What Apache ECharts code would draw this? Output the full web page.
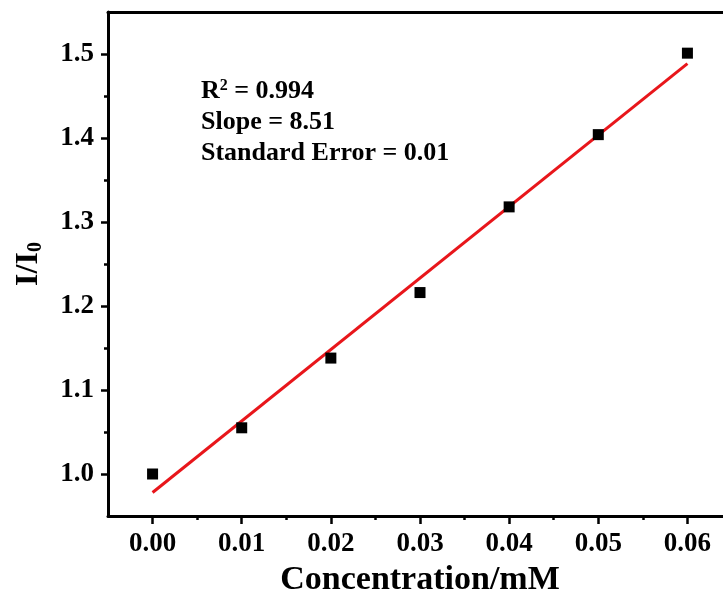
<!DOCTYPE html>
<html>
<head>
<meta charset="utf-8">
<title>I/I0 vs Concentration</title>
<script src="https://cdn.jsdelivr.net/npm/echarts@6/dist/echarts.min.js"></script>
<style>
  html, body { margin: 0; padding: 0; background: #fff; }
  #chart { width: 723px; height: 595px; }
</style>
</head>
<body>
<div id="chart"></div>
<script>
// Measured intensity ratio at each concentration (mM)
const concentration = [0.00, 0.01, 0.02, 0.03, 0.04, 0.05, 0.06];
const intensityRatio = [1.000, 1.055, 1.138, 1.216, 1.318, 1.404, 1.501];

// Linear fit parameters
const fitSlope = 8.51;
const fitIntercept = 0.978;
const fitRange = [0.00, 0.06];

// Axis ticks
const xMajorTicks = [0.00, 0.01, 0.02, 0.03, 0.04, 0.05, 0.06];
const xMinorTicks = [0.005, 0.015, 0.025, 0.035, 0.045, 0.055];
const yMajorTicks = [1.0, 1.1, 1.2, 1.3, 1.4, 1.5];
const yMinorTicks = [1.05, 1.15, 1.25, 1.35, 1.45];

// Fit statistics shown on the plot
const statLines = ['R{sup|2} = 0.994', 'Slope = 8.51', 'Standard Error = 0.01'];

const FONT = "'Liberation Serif', 'Times New Roman', serif";

const fitLine = fitRange.map(x => [x, fitIntercept + fitSlope * x]);
const points = concentration.map((x, i) => [x, intensityRatio[i]]);

const chart = echarts.init(document.getElementById('chart'), null, { renderer: 'canvas' });

// The plot frame runs past the right edge of the canvas
const grid = { left: 108, top: 12, width: 624, bottom: 79,
  outerBoundsMode: 'none', containLabel: false };

const xRange = { min: -0.005, max: 0.065 };
const yRange = { min: 0.95, max: 1.55 };

const AXIS_LINE = { color: '#000', width: 3 };
const TICK_LINE = { color: '#000', width: 2.5 };

chart.setOption({
  backgroundColor: '#fff',
  animation: false,
  grid: grid,
  xAxis: [
    {
      type: 'value', ...xRange,
      name: 'Concentration/mM',
      nameLocation: 'middle',
      nameGap: 47,
      nameTextStyle: { fontFamily: FONT, fontWeight: 'bold', fontSize: 34, color: '#000' },
      axisLine: { show: true, onZero: false, lineStyle: AXIS_LINE },
      axisTick: { show: true, inside: false, length: 8, lineStyle: TICK_LINE, customValues: xMajorTicks },
      axisLabel: { show: true, margin: 15, fontFamily: FONT, fontWeight: 'bold', fontSize: 27, color: '#000',
        customValues: xMajorTicks, formatter: v => v.toFixed(2) },
      splitLine: { show: false }
    },
    {
      type: 'value', ...xRange,
      position: 'bottom',
      axisLine: { show: false, onZero: false },
      axisTick: { show: true, inside: false, length: 4, lineStyle: TICK_LINE, customValues: xMinorTicks },
      axisLabel: { show: false },
      splitLine: { show: false }
    },
    {
      // top edge of the frame
      type: 'value', ...xRange,
      position: 'top',
      axisLine: { show: true, onZero: false, lineStyle: AXIS_LINE },
      axisTick: { show: false },
      axisLabel: { show: false },
      splitLine: { show: false }
    }
  ],
  yAxis: [
    {
      type: 'value', ...yRange,
      name: 'I/I{sub|0}',
      nameLocation: 'middle',
      nameRotate: 90,
      nameGap: 62,
      nameTextStyle: { fontFamily: FONT, fontWeight: 'bold', fontSize: 32, color: '#000',
        rich: { sub: { fontFamily: FONT, fontWeight: 'bold', fontSize: 20, color: '#000', verticalAlign: 'bottom', padding: [15, 0, 0, 0] } } },
      axisLine: { show: true, onZero: false, lineStyle: AXIS_LINE },
      axisTick: { show: true, inside: false, length: 7, lineStyle: TICK_LINE, customValues: yMajorTicks },
      axisLabel: { show: true, margin: 14, fontFamily: FONT, fontWeight: 'bold', fontSize: 27, color: '#000',
        customValues: yMajorTicks, formatter: v => v.toFixed(1) },
      splitLine: { show: false }
    },
    {
      type: 'value', ...yRange,
      position: 'left',
      axisLine: { show: false, onZero: false },
      axisTick: { show: true, inside: false, length: 4, lineStyle: TICK_LINE, customValues: yMinorTicks },
      axisLabel: { show: false },
      splitLine: { show: false }
    }
  ],
  series: [
    {
      name: 'fit',
      type: 'line',
      data: fitLine,
      symbol: 'none',
      lineStyle: { color: '#e8161b', width: 3 },
      z: 2
    },
    {
      name: 'data',
      type: 'scatter',
      data: points,
      symbol: 'rect',
      symbolSize: 11,
      itemStyle: { color: '#000', opacity: 1 },
      z: 3
    }
  ],
  graphic: statLines.map((t, i) => ({
    type: 'text',
    left: 201,
    top: 78 + i * 31,
    style: {
      text: t,
      fontFamily: FONT,
      fontWeight: 'bold',
      fontSize: 26,
      fill: '#000',
      rich: {
        sup: { fontFamily: FONT, fontWeight: 'bold', fontSize: 16, fill: '#000', verticalAlign: 'top', padding: [0, 0, 10, 0] }
      }
    }
  }))
});
</script>
</body>
</html>
